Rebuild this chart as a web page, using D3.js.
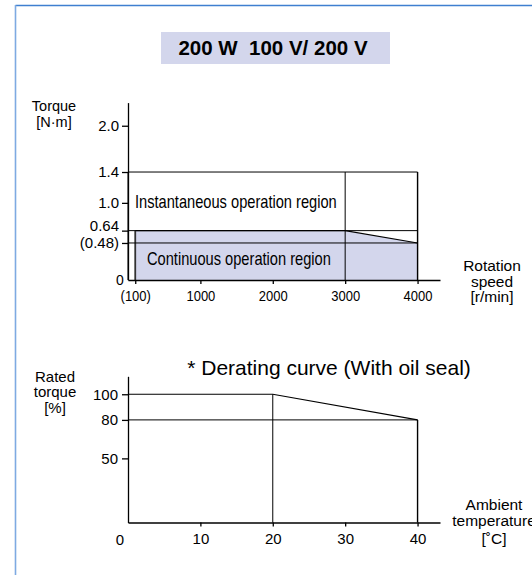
<!DOCTYPE html>
<html>
<head>
<meta charset="utf-8">
<script src="https://cdn.jsdelivr.net/npm/d3@7"></script>
<style>
  html, body { margin: 0; padding: 0; background: #fff; }
  svg { display: block; font-family: Helvetica, Arial, "Liberation Sans", sans-serif; }
  .axis path, .axis line { stroke: #000; stroke-width: 1.3; }
  .axis text { font-size: 15px; fill: #000; font-family: Helvetica, Arial, "Liberation Sans", sans-serif; }
</style>
</head>
<body>
<div id="chart"></div>
<script>
// top chart: torque vs rotation speed
const speedTicks = [100, 1000, 2000, 3000, 4000];
const speedLabels = ["(100)", "1000", "2000", "3000", "4000"];
const torqueTicks = [0.48, 0.64, 1.0, 1.4, 2.0];
const torqueLabels = ["(0.48)", "0.64", "1.0", "1.4", "2.0"];
const instantBox = [[0, 0], [0, 1.4], [4000, 1.4], [4000, 0]];
const continuousRegion = [[100, 0], [100, 0.64], [3000, 0.64], [4000, 0.48], [4000, 0]];
const torqueRefLines = [0.64, 0.48];
const speedRefLines = [3000];

// bottom chart: derating curve
const tempTicks = [10, 20, 30, 40];
const ratedTicks = [50, 80, 100];
const deratingCurve = [[0, 100], [20, 100], [40, 80]];
const deratingFloor = 80;

const width = 532, height = 575;
const svg = d3.select("#chart").append("svg").attr("width", width).attr("height", height);

// condensed text helper (the top chart uses a narrow face)
function narrowText(x, y, size, str, anchor) {
  return svg.append("text")
    .attr("transform", `translate(${x},${y}) scale(0.8,1)`)
    .attr("font-size", size)
    .attr("text-anchor", anchor || "start")
    .text(str);
}

// blue frame
svg.append("line").attr("x1", 15.5).attr("x2", width).attr("y1", 5.5).attr("y2", 5.5)
  .attr("stroke", "#3f7fd0").attr("stroke-width", 1.6);
svg.append("line").attr("x1", 15.5).attr("x2", 15.5).attr("y1", 5).attr("y2", height)
  .attr("stroke", "#7eaae2").attr("stroke-width", 1.6);

// title badge
svg.append("rect").attr("x", 161).attr("y", 32).attr("width", 229).attr("height", 32).attr("fill", "#d3d6ec");
svg.append("text").attr("x", 273).attr("y", 55).attr("text-anchor", "middle")
  .attr("font-size", 20.5).attr("font-weight", "bold").style("white-space", "pre")
  .text("200 W  100 V/ 200 V");

// ---------- top chart ----------
const x1 = d3.scaleLinear().domain([0, 4310]).range([128, 440]);
const y1 = d3.scaleLinear().domain([0, 2.3]).range([280, 102.6]);
const line1 = d3.line().x((d) => x1(d[0])).y((d) => y1(d[1]));

svg.append("path").datum(continuousRegion).attr("d", line1).attr("fill", "#d3d6ec").attr("stroke", "none");
svg.append("path").datum(instantBox).attr("d", line1).attr("fill", "none").attr("stroke", "#000").attr("stroke-width", 1);
svg.append("path").datum(continuousRegion.slice(1, 4)).attr("d", line1).attr("fill", "none").attr("stroke", "#000").attr("stroke-width", 1.1);
svg.append("line").attr("x1", x1(100)).attr("x2", x1(100)).attr("y1", y1(0)).attr("y2", y1(0.64))
  .attr("stroke", "#333").attr("stroke-width", 1.8);
torqueRefLines.forEach((v) => {
  svg.append("line").attr("x1", x1(0)).attr("x2", x1(4000)).attr("y1", y1(v)).attr("y2", y1(v))
    .attr("stroke", "#000").attr("stroke-width", 1);
});
speedRefLines.forEach((v) => {
  svg.append("line").attr("x1", x1(v)).attr("x2", x1(v)).attr("y1", y1(0)).attr("y2", y1(1.4))
    .attr("stroke", "#000").attr("stroke-width", 1);
});
svg.append("line").attr("x1", x1(4000)).attr("x2", x1(4000)).attr("y1", y1(0)).attr("y2", y1(1.4))
  .attr("stroke", "#000").attr("stroke-width", 1.4);

const topX = svg.append("g").attr("class", "axis").attr("transform", `translate(0,${y1(0)})`)
  .call(d3.axisBottom(x1).tickValues(speedTicks).tickFormat((d, i) => speedLabels[i]).tickSize(4).tickSizeOuter(0).tickPadding(6));
topX.selectAll("text").attr("transform", "scale(0.84,1)").style("font-size", "15.5px");
const topY = svg.append("g").attr("class", "axis").attr("transform", `translate(${x1(0)},0)`)
  .call(d3.axisLeft(y1).tickValues(torqueTicks).tickFormat((d, i) => torqueLabels[i]).tickSize(6).tickSizeOuter(0).tickPadding(3));
topY.selectAll("text").attr("dy", (d) => (d === 0.64 ? "-0.02em" : "0.32em"));
svg.append("text").attr("x", 120).attr("y", 285).attr("text-anchor", "middle").attr("font-size", 14).text("0");

narrowText(135, 208, 18.3, "Instantaneous operation region");
narrowText(147, 265, 18.3, "Continuous operation region");

const torqueLabel = svg.append("text").attr("font-size", 14.5).attr("text-anchor", "middle");
torqueLabel.append("tspan").attr("x", 54).attr("y", 111).text("Torque");
torqueLabel.append("tspan").attr("x", 54).attr("y", 127).text("[N·m]");

const speedLabel = svg.append("text").attr("font-size", 15.5).attr("text-anchor", "middle");
["Rotation", "speed", "[r/min]"].forEach((t, i) => speedLabel.append("tspan").attr("x", 492).attr("y", 271 + i * 15.5).text(t));

// ---------- bottom chart ----------
const x2 = d3.scaleLinear().domain([0, 43.1]).range([128, 440]);
const y2 = d3.scaleLinear().domain([0, 114]).range([522.5, 376.3]);
const line2 = d3.line().x((d) => x2(d[0])).y((d) => y2(d[1]));

svg.append("path").datum(deratingCurve).attr("d", line2).attr("fill", "none").attr("stroke", "#000").attr("stroke-width", 1.1);
svg.append("line").attr("x1", x2(0)).attr("x2", x2(40)).attr("y1", y2(deratingFloor)).attr("y2", y2(deratingFloor))
  .attr("stroke", "#000").attr("stroke-width", 1);
svg.append("line").attr("x1", x2(20)).attr("x2", x2(20)).attr("y1", y2(0)).attr("y2", y2(100))
  .attr("stroke", "#000").attr("stroke-width", 1);
svg.append("line").attr("x1", x2(40)).attr("x2", x2(40)).attr("y1", y2(0)).attr("y2", y2(80))
  .attr("stroke", "#000").attr("stroke-width", 1.4);

svg.append("g").attr("class", "axis").attr("transform", `translate(0,${y2(0)})`)
  .call(d3.axisBottom(x2).tickValues(tempTicks).tickSize(4).tickSizeOuter(0).tickPadding(6.5));
svg.append("g").attr("class", "axis").attr("transform", `translate(${x2(0)},0)`)
  .call(d3.axisLeft(y2).tickValues(ratedTicks).tickSize(6).tickSizeOuter(0).tickPadding(4));
svg.append("text").attr("x", 120).attr("y", 545).attr("text-anchor", "middle").attr("font-size", 15).text("0");

svg.append("text").attr("x", 329).attr("y", 375).attr("text-anchor", "middle").attr("font-size", 21)
  .text("* Derating curve (With oil seal)");

const ratedLabel = svg.append("text").attr("font-size", 15).attr("text-anchor", "middle");
["Rated", "torque", "[%]"].forEach((t, i) => ratedLabel.append("tspan").attr("x", 55).attr("y", 381.5 + i * 15.5).text(t));

const tempLabel = svg.append("text").attr("font-size", 15.5).attr("text-anchor", "middle");
tempLabel.append("tspan").attr("x", 494).attr("y", 510).text("Ambient");
tempLabel.append("tspan").attr("x", 494).attr("y", 526).text("temperature");
tempLabel.append("tspan").attr("x", 494).attr("y", 544).text("[˚C]");
</script>
</body>
</html>
